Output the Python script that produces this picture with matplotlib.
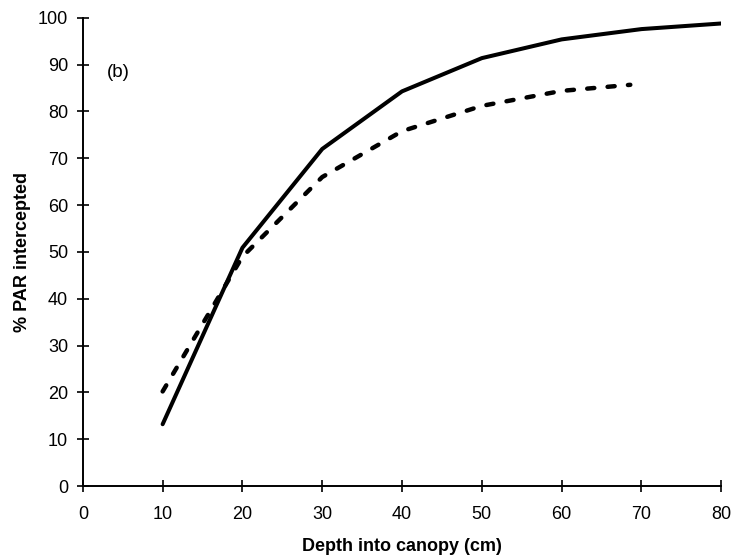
import matplotlib.pyplot as plt

plt.rcParams['font.family'] = ['Liberation Sans', 'DejaVu Sans']

# depth into canopy (cm) and % PAR intercepted
depth_solid = [10, 20, 30, 40, 50, 60, 70, 80]
par_solid = [13.2, 50.9, 72.0, 84.3, 91.4, 95.4, 97.6, 98.8]

depth_dashed = [10, 20, 30, 40, 50, 60, 68.6]
par_dashed = [20.2, 49.0, 66.0, 75.8, 81.2, 84.4, 85.7]

x_ticks = [0, 10, 20, 30, 40, 50, 60, 70, 80]
y_ticks = [0, 10, 20, 30, 40, 50, 60, 70, 80, 90, 100]

fig = plt.figure(figsize=(7.33, 5.58), dpi=100)
ax = fig.add_axes([0.113, 0.129, 0.871, 0.839])

ax.plot(depth_solid, par_solid, color='black', lw=2.9, solid_capstyle='round')
ax.plot(depth_dashed, par_dashed, color='black', lw=3.2,
        linestyle=(0, (1.6, 3.0)), dash_capstyle='round')

ax.set_xlim(0, 80)
ax.set_ylim(0, 100)
ax.set_xticks(x_ticks)
ax.set_yticks(y_ticks)
ax.tick_params(direction='inout', length=9, width=1.2, labelsize=13, pad=6)
ax.tick_params(axis='x', pad=10)

for s in ['top', 'right']:
    ax.spines[s].set_visible(False)
for s in ['left', 'bottom']:
    ax.spines[s].set_linewidth(1.4)

ax.text(3, 87.3, '(b)', fontsize=13.5)
ax.set_xlabel('Depth into canopy (cm)', fontsize=13, fontweight='bold', labelpad=11)
ax.set_ylabel('% PAR intercepted', fontsize=13, fontweight='bold', labelpad=5)

fig.savefig('out.png', dpi=100)
